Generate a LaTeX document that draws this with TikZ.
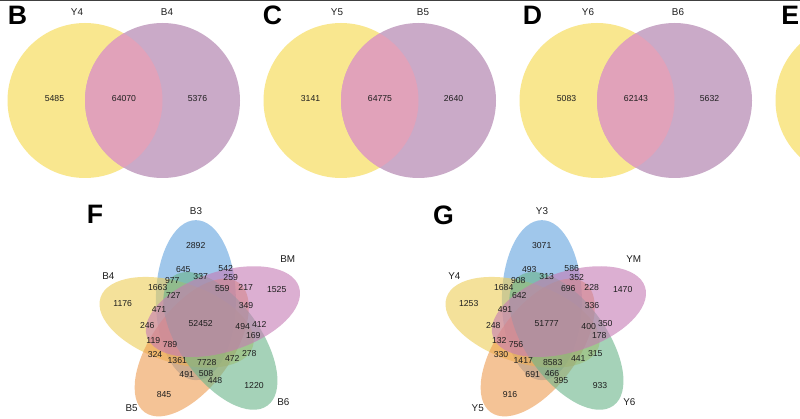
\documentclass[tikz,border=0pt]{standalone}
\usepackage{fontspec}
\setmainfont{Liberation Sans}
\usetikzlibrary{calc}
\definecolor{cy}{RGB}{249,231,143}
\definecolor{cp}{RGB}{202,170,200}
\definecolor{co}{RGB}{225,162,186}
\definecolor{vblue}{RGB}{97,163,222}
\definecolor{vyellow}{RGB}{238,205,88}
\definecolor{vorange}{RGB}{238,155,80}
\definecolor{vgreen}{RGB}{105,180,138}
\definecolor{vpink}{RGB}{197,122,180}
\definecolor{txt}{RGB}{30,30,30}
\tikzset{
  num/.style={font=\fontsize{6.5}{7}\selectfont, text=txt, inner sep=0pt},
  setlab/.style={font=\fontsize{7.4}{8}\selectfont, text=txt, inner sep=0pt},
  panel/.style={font=\fontsize{20}{22}\selectfont\bfseries, text=black, inner sep=0pt},
  petal/.style={fill opacity=0.6},
}
\begin{document}
\begin{tikzpicture}[x=0.75pt,y=0.75pt]
\useasboundingbox (0,0) rectangle (800,418);
\clip (0,0) rectangle (800,418);
\fill[white] (0,0) rectangle (800,418);
\draw[black!75, line width=1.2pt] (0,418) -- (800,418);
% two-set diagrams
\foreach \cx/\lx/\rx/\l/\r/\a/\b/\c/\P/\px [count=\i] in
  {85/77/167/Y4/B4/5485/64070/5376/B/17.5,
   341/337/423/Y5/B5/3141/64775/2640/C/272.5,
   597/588/678/Y6/B6/5083/62143/5632/D/532.5}{
  \coordinate (L\i) at (\cx,317.5);
  \coordinate (R\i) at (\cx+77.5,317.5);
  \fill[cy] (L\i) circle (77.5);
  \fill[cp] (R\i) circle (77.5);
  \begin{scope}
    \clip (L\i) circle (77.5);
    \fill[co] (R\i) circle (77.5);
  \end{scope}
  \node[setlab] (ll\i) at (\lx,406) {\l};
  \node[setlab] (rl\i) at (\rx,406) {\r};
  \node[num] (na\i) at (\cx-30.5,319) {\a};
  \node[num] (nb\i) at (\cx+39,319) {\b};
  \node[num] (nc\i) at (\cx+112.5,319) {\c};
  \node[panel] (p\i) at (\px,403) {\P};
}
% panel E (cut off)
\coordinate (E1) at (853,317.5);
\fill[cy] (E1) circle (77.5);
\node[panel, anchor=west] (pE) at (781,403) {E};
% five-set diagrams
\foreach \cx/\d in {201.5/F, 547.5/G}{
  \coordinate (\d c) at (\cx,93.5);
  \foreach \col [count=\k from 0] in {vblue,vyellow,vorange,vgreen,vpink}{
    \path (\d c) ++(103+72*\k:25) coordinate (\d e\k);
    \fill[\col, petal, rotate around={90+72*\k:(\d e\k)}] (\d e\k) ellipse [x radius=80, y radius=40];
  }
}
\node[panel] (pF) at (95,204) {F};
\node[panel] (pG) at (443.5,203) {G};
\foreach \x/\y/\f/\g [count=\i] in
  {196/207.3/B3/Y3, 287.7/159/BM/YM, 108.3/142.3/B4/Y4, 131.7/9.7/B5/Y5, 283.3/16.3/B6/Y6}{
  \node[setlab] (fs\i) at (\x,\y) {\f};
  \node[setlab] (gs\i) at (\x+346,\y) {\g};
}
\foreach \x/\y/\f/\g [count=\i] in
  {195.7/172.3/2892/3071, 183.3/148/645/493, 225.7/149.7/542/586,
   200.7/141.3/337/313, 230.7/140.7/259/352, 172.3/137.3/977/908,
   157.7/130.7/1663/1684, 222.3/129.3/559/696, 245.7/130.7/217/228,
   276.7/128.7/1525/1470, 173.3/122.3/727/642, 122.7/114.3/1176/1253,
   159/108/471/491, 246/112/349/336, 200.7/94/52452/51777,
   147.3/92.3/246/248, 242.7/91/494/400, 259.3/94/412/350,
   253.3/82.3/169/178, 153.3/77/119/132, 170/73.7/789/756,
   155/63/324/330, 177.3/57/1361/1417, 206.7/55.3/7728/8583,
   232.3/59.7/472/441, 249.3/64/278/315, 186.7/43/491/691,
   206/44.7/508/466, 215/37.3/448/395, 254/32.3/1220/933,
   164/23.7/845/916}{
  \node[num] (f\i) at (\x,\y) {\f};
  \node[num] (g\i) at (\x+346,\y) {\g};
}
\end{tikzpicture}
\end{document}
